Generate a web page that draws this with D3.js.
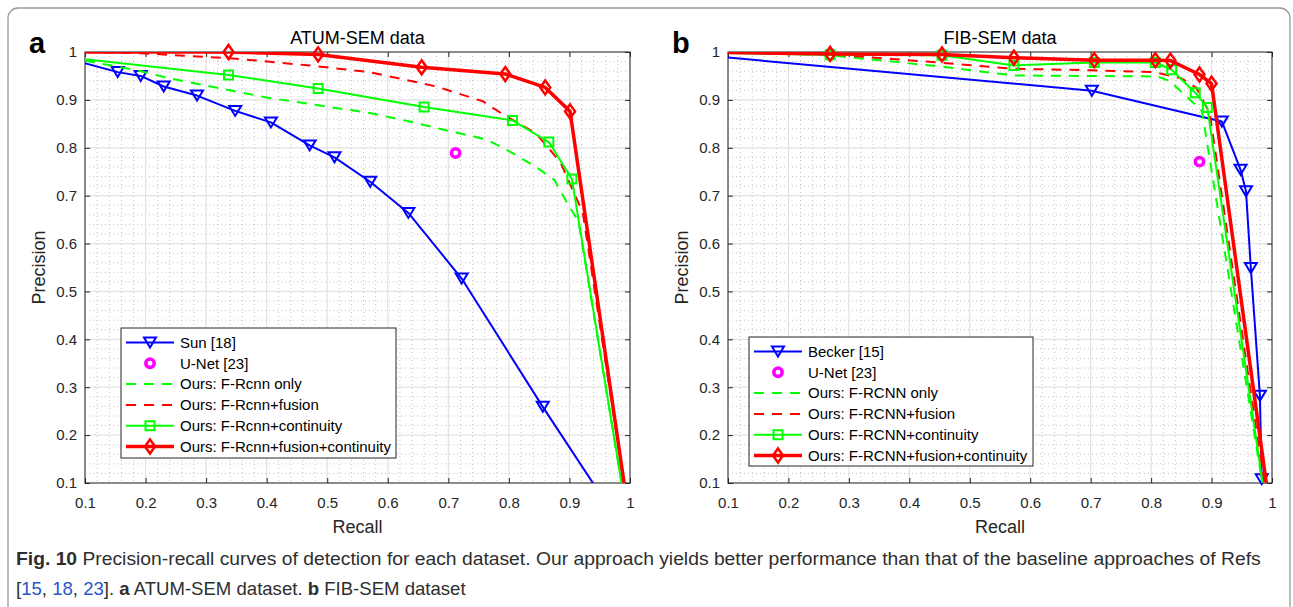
<!DOCTYPE html>
<html>
<head>
<meta charset="utf-8">
<script src="https://cdn.jsdelivr.net/npm/d3@7"></script>
<style>
  body { margin: 0; background: #fff; }
  svg { display: block; font-family: "Liberation Sans", Arial, sans-serif; }
</style>
</head>
<body>
<svg width="1293" height="607"></svg>
<script>
// axis ticks (same for both panels)
const tickValues = [0.1, 0.2, 0.3, 0.4, 0.5, 0.6, 0.7, 0.8, 0.9, 1];
const tickLabels = ["0.1", "0.2", "0.3", "0.4", "0.5", "0.6", "0.7", "0.8", "0.9", "1"];

// ---- panel a: ATUM-SEM ----
const atumSunRecall = [0.06, 0.154, 0.192, 0.230, 0.285, 0.348, 0.407, 0.471, 0.512, 0.571, 0.634, 0.722, 0.856, 0.97];
const atumSunPrecision = [0.99, 0.958, 0.950, 0.928, 0.909, 0.877, 0.853, 0.805, 0.780, 0.729, 0.664, 0.527, 0.259, 0.04];
const atumUnetRecall = [0.712];
const atumUnetPrecision = [0.789];
const atumRcnnRecall = [0.1, 0.185, 0.24, 0.4, 0.573, 0.636, 0.691, 0.764, 0.806, 0.847, 0.875, 0.898, 0.915, 0.986];
const atumRcnnPrecision = [0.982, 0.962, 0.945, 0.905, 0.872, 0.855, 0.838, 0.817, 0.789, 0.758, 0.733, 0.681, 0.646, 0.1];
const atumFusionRecall = [0.1, 0.2, 0.35, 0.47, 0.57, 0.68, 0.757, 0.79, 0.845, 0.885, 0.922, 0.99];
const atumFusionPrecision = [1.0, 0.997, 0.986, 0.972, 0.958, 0.928, 0.897, 0.87, 0.83, 0.77, 0.665, 0.1];
const atumContRecall = [0.05, 0.337, 0.485, 0.66, 0.806, 0.866, 0.904, 0.9925];
const atumContPrecision = [0.992, 0.952, 0.924, 0.885, 0.857, 0.812, 0.735, 0.05];
const atumFullRecall = [0.05, 0.337, 0.485, 0.656, 0.794, 0.86, 0.901, 0.996];
const atumFullPrecision = [1.0, 1.0, 0.995, 0.968, 0.954, 0.926, 0.876, 0.05];

// ---- panel b: FIB-SEM ----
const fibBeckerRecall = [0.0, 0.702, 0.917, 0.948, 0.957, 0.965, 0.980, 0.983];
const fibBeckerPrecision = [1.0, 0.919, 0.855, 0.754, 0.709, 0.549, 0.282, 0.108];
const fibUnetRecall = [0.880];
const fibUnetPrecision = [0.771];
const fibRcnnRecall = [0.1, 0.27, 0.45, 0.573, 0.81, 0.83, 0.856, 0.884, 0.984];
const fibRcnnPrecision = [1.0, 0.993, 0.97, 0.951, 0.949, 0.94, 0.91, 0.877, 0.1];
const fibFusionRecall = [0.1, 0.27, 0.45, 0.573, 0.7, 0.806, 0.85, 0.875, 0.897, 0.987];
const fibFusionPrecision = [1.0, 0.995, 0.978, 0.965, 0.962, 0.958, 0.945, 0.925, 0.872, 0.1];
const fibContRecall = [0.05, 0.269, 0.454, 0.573, 0.706, 0.807, 0.834, 0.873, 0.893, 0.988];
const fibContPrecision = [0.999, 0.994, 0.993, 0.972, 0.978, 0.978, 0.963, 0.915, 0.884, 0.07];
const fibFullRecall = [0.05, 0.269, 0.454, 0.573, 0.706, 0.807, 0.832, 0.880, 0.900, 0.996];
const fibFullPrecision = [1.0, 0.996, 0.995, 0.988, 0.983, 0.983, 0.982, 0.953, 0.934, 0.05];

const legendA = ["Sun [18]", "U-Net [23]", "Ours: F-Rcnn only", "Ours: F-Rcnn+fusion", "Ours: F-Rcnn+continuity", "Ours: F-Rcnn+fusion+continuity"];
const legendB = ["Becker [15]", "U-Net [23]", "Ours: F-RCNN only", "Ours: F-RCNN+fusion", "Ours: F-RCNN+continuity", "Ours: F-RCNN+fusion+continuity"];

const zip = (r, p) => r.map((v, i) => [v, p[i]]);

// series styles, in plot / legend order
const styles = [
  { color: "#0000ff", width: 2, dash: null, marker: "tri" },
  { color: "#ff00ff", width: 0, dash: null, marker: "circle" },
  { color: "#00ff00", width: 2, dash: "10,8", marker: null },
  { color: "#ff0000", width: 2, dash: "10,8", marker: null },
  { color: "#00ff00", width: 2, dash: null, marker: "square" },
  { color: "#ff0000", width: 3.5, dash: null, marker: "diamond" }
];

const panels = [
  {
    id: "a", letter: "a", title: "ATUM-SEM data", left: 85, right: 630,
    legend: { x: 121, y: 328, w: 275, h: 130 }, names: legendA,
    data: [zip(atumSunRecall, atumSunPrecision), zip(atumUnetRecall, atumUnetPrecision),
           zip(atumRcnnRecall, atumRcnnPrecision), zip(atumFusionRecall, atumFusionPrecision),
           zip(atumContRecall, atumContPrecision), zip(atumFullRecall, atumFullPrecision)]
  },
  {
    id: "b", letter: "b", title: "FIB-SEM data", left: 728, right: 1272,
    legend: { x: 749, y: 337, w: 284, h: 129 }, names: legendB,
    data: [zip(fibBeckerRecall, fibBeckerPrecision), zip(fibUnetRecall, fibUnetPrecision),
           zip(fibRcnnRecall, fibRcnnPrecision), zip(fibFusionRecall, fibFusionPrecision),
           zip(fibContRecall, fibContPrecision), zip(fibFullRecall, fibFullPrecision)]
  }
];

const plotTop = 52, plotBottom = 483;
const ink = "#262626";
const svg = d3.select("svg");

// outer frame of the figure
svg.append("rect")
  .attr("x", 8).attr("y", 8).attr("width", 1282).attr("height", 700)
  .attr("rx", 10)
  .attr("fill", "none").attr("stroke", "#9a9a9a").attr("stroke-width", 1.3);

function drawMarker(sel, type, color, lw) {
  if (type === "tri") {
    sel.append("path").attr("d", "M-6,-5L6,-5L0,5Z")
      .attr("fill", "none").attr("stroke", color).attr("stroke-width", lw);
  } else if (type === "square") {
    sel.append("path").attr("d", "M-4.5,-4.5h9v9h-9Z")
      .attr("fill", "none").attr("stroke", color).attr("stroke-width", lw);
  } else if (type === "diamond") {
    sel.append("path").attr("d", "M0,-7L5,0L0,7L-5,0Z")
      .attr("fill", "none").attr("stroke", color).attr("stroke-width", 2.5);
  } else if (type === "circle") {
    sel.append("circle").attr("r", 4.2)
      .attr("fill", "none").attr("stroke", color).attr("stroke-width", 3.5);
  }
}

panels.forEach(p => {
  const x = d3.scaleLinear().domain([0.1, 1]).range([p.left, p.right]);
  const y = d3.scaleLinear().domain([0.1, 1]).range([plotBottom, plotTop]);
  const g = svg.append("g");

  svg.append("clipPath").attr("id", "clip-" + p.id)
    .append("rect").attr("x", p.left).attr("y", plotTop)
    .attr("width", p.right - p.left).attr("height", plotBottom - plotTop);

  // minor grid (dotted)
  const minor = d3.range(10, 101, 2).filter(v => v % 10 !== 0).map(v => v / 100);
  const grid = g.append("g");
  grid.selectAll(".mx").data(minor).join("line")
    .attr("x1", d => x(d)).attr("x2", d => x(d)).attr("y1", plotTop).attr("y2", plotBottom)
    .attr("stroke", "#c4c4c4").attr("stroke-dasharray", "1,3");
  grid.selectAll(".my").data(minor).join("line")
    .attr("y1", d => y(d)).attr("y2", d => y(d)).attr("x1", p.left).attr("x2", p.right)
    .attr("stroke", "#c4c4c4").attr("stroke-dasharray", "1,3");
  // major grid
  grid.selectAll(".gx").data(tickValues).join("line")
    .attr("x1", d => x(d)).attr("x2", d => x(d)).attr("y1", plotTop).attr("y2", plotBottom)
    .attr("stroke", "#e2e2e2").attr("stroke-width", 1.2);
  grid.selectAll(".gy").data(tickValues).join("line")
    .attr("y1", d => y(d)).attr("y2", d => y(d)).attr("x1", p.left).attr("x2", p.right)
    .attr("stroke", "#e2e2e2").attr("stroke-width", 1.2);

  // axes, ticks pointing inward
  const fmt = (d, i) => tickLabels[i];
  const styleAxis = a => {
    a.select(".domain").remove();
    a.selectAll("line").attr("stroke", ink);
    a.selectAll("text").attr("fill", ink).attr("font-size", 15)
      .attr("font-family", "Liberation Sans, Arial, sans-serif");
  };
  g.append("g").attr("transform", `translate(0,${plotBottom})`)
    .call(d3.axisBottom(x).tickValues(tickValues).tickFormat(fmt).tickSizeInner(-5).tickSizeOuter(0).tickPadding(14))
    .call(styleAxis);
  g.append("g").attr("transform", `translate(0,${plotTop})`)
    .call(d3.axisTop(x).tickValues(tickValues).tickFormat("").tickSizeInner(-5).tickSizeOuter(0))
    .call(styleAxis);
  g.append("g").attr("transform", `translate(${p.left},0)`)
    .call(d3.axisLeft(y).tickValues(tickValues).tickFormat(fmt).tickSizeInner(-5).tickSizeOuter(0).tickPadding(8))
    .call(styleAxis);
  g.append("g").attr("transform", `translate(${p.right},0)`)
    .call(d3.axisRight(y).tickValues(tickValues).tickFormat("").tickSizeInner(-5).tickSizeOuter(0))
    .call(styleAxis);

  g.append("rect").attr("x", p.left).attr("y", plotTop)
    .attr("width", p.right - p.left).attr("height", plotBottom - plotTop)
    .attr("fill", "none").attr("stroke", ink).attr("stroke-width", 1);

  // series
  const line = d3.line().x(d => x(d[0])).y(d => y(d[1]));
  const inside = d => d[0] >= 0.1 && d[0] <= 1 && d[1] >= 0.1 && d[1] <= 1;
  p.data.forEach((pts, i) => {
    const s = styles[i];
    if (s.width > 0) {
      g.append("path").datum(pts)
        .attr("clip-path", `url(#clip-${p.id})`)
        .attr("d", line)
        .attr("fill", "none").attr("stroke", s.color).attr("stroke-width", s.width)
        .attr("stroke-dasharray", s.dash)
        .attr("stroke-linejoin", "round");
    }
    if (s.marker) {
      g.append("g").selectAll("g").data(pts.filter(inside)).join("g")
        .attr("transform", d => `translate(${x(d[0])},${y(d[1])})`)
        .each(function() { drawMarker(d3.select(this), s.marker, s.color, s.width || 2); });
    }
  });

  // legend
  const L = p.legend;
  const lg = g.append("g");
  lg.append("rect").attr("x", L.x).attr("y", L.y).attr("width", L.w).attr("height", L.h)
    .attr("fill", "#fff").attr("stroke", ink).attr("stroke-width", 1);
  p.names.forEach((name, i) => {
    const s = styles[i];
    const cy = L.y + 14.5 + i * 20.8;
    const x0 = L.x + 5, x1 = L.x + 53;
    if (s.width > 0) {
      lg.append("line").attr("x1", x0).attr("x2", x1).attr("y1", cy).attr("y2", cy)
        .attr("stroke", s.color).attr("stroke-width", s.width).attr("stroke-dasharray", s.dash);
    }
    if (s.marker) {
      const m = lg.append("g").attr("transform", `translate(${(x0 + x1) / 2},${cy})`);
      drawMarker(m, s.marker, s.color, s.width || 2);
    }
    lg.append("text").attr("x", L.x + 59).attr("y", cy + 5.3)
      .attr("font-size", 15).attr("fill", "#000").text(name);
  });

  // labels
  const cx = (p.left + p.right) / 2;
  svg.append("text").attr("x", cx).attr("y", 44).attr("text-anchor", "middle")
    .attr("font-size", 18).attr("fill", "#000").text(p.title);
  svg.append("text").attr("x", cx).attr("y", 533).attr("text-anchor", "middle")
    .attr("font-size", 18).attr("fill", ink).text("Recall");
  svg.append("text").attr("transform", `translate(${p.left - 40},${(plotTop + plotBottom) / 2}) rotate(-90)`)
    .attr("text-anchor", "middle").attr("font-size", 18).attr("fill", ink).text("Precision");
  svg.append("text").attr("x", p.left - 56).attr("y", 53)
    .attr("font-size", 29).attr("font-weight", "bold").attr("fill", "#000").text(p.letter);
});

// caption
const capColor = "#2e2e2e", refColor = "#2b55c9";
function captionLine(y, targetWidth, parts) {
  const g = svg.append("g");
  const t = g.append("text").attr("x", 0).attr("y", 0).attr("font-size", 17.5).attr("fill", capColor);
  parts.forEach(pt => {
    t.append("tspan").text(pt.t)
      .attr("font-weight", pt.b ? "bold" : null)
      .attr("fill", pt.c || null);
  });
  const w = t.node().getComputedTextLength();
  g.attr("transform", `translate(16,${y}) scale(${targetWidth / w},1)`);
}
captionLine(565, 1246, [
  { t: "Fig. 10", b: true },
  { t: " Precision-recall curves of detection for each dataset. Our approach yields better performance than that of the baseline approaches of Refs" }
]);
captionLine(595, 450, [
  { t: "[" }, { t: "15", c: refColor }, { t: ", " }, { t: "18", c: refColor }, { t: ", " }, { t: "23", c: refColor },
  { t: "]. " }, { t: "a", b: true }, { t: " ATUM-SEM dataset. " }, { t: "b", b: true }, { t: " FIB-SEM dataset" }
]);
</script>
</body>
</html>
